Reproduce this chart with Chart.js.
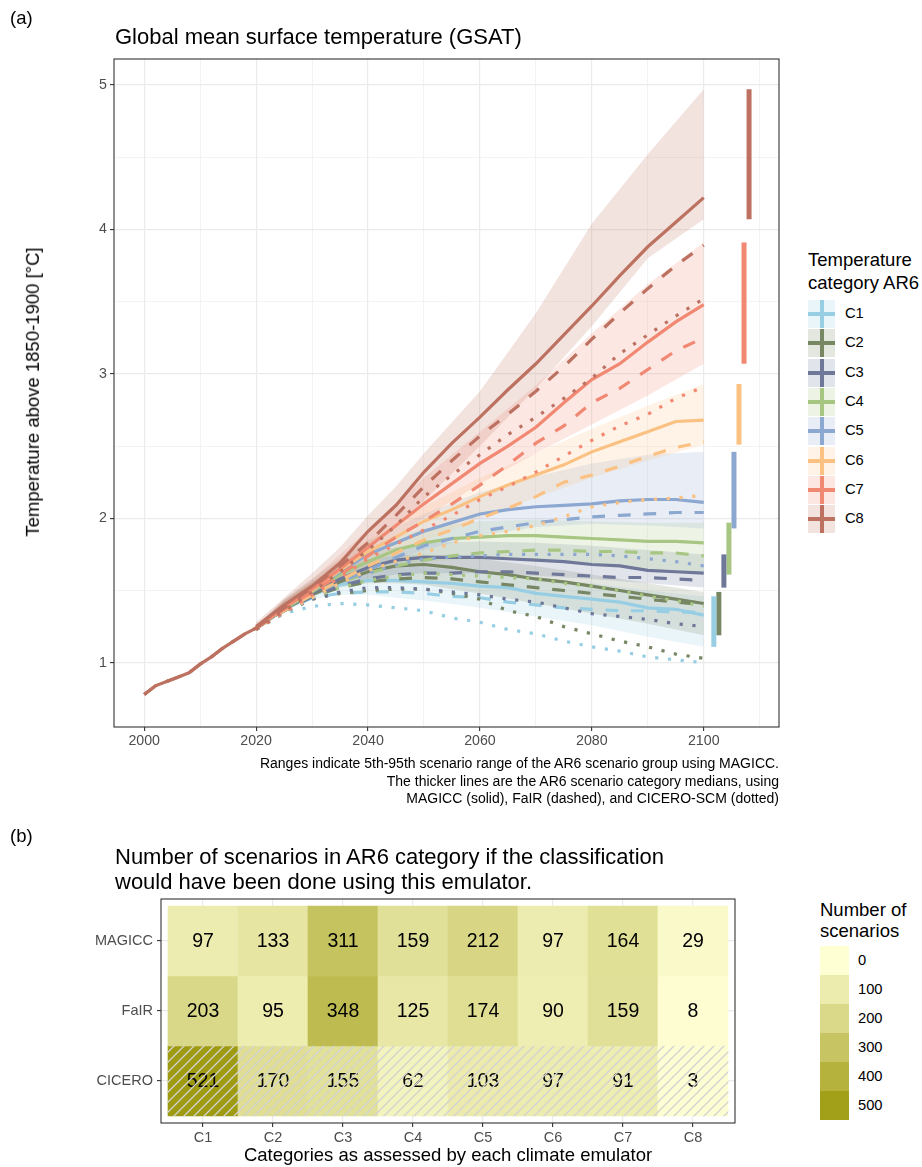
<!DOCTYPE html>
<html>
<head>
<meta charset="utf-8">
<title>GSAT and scenario counts</title>
<script src="https://cdn.jsdelivr.net/npm/chart.js"></script>
<style>
  body { margin:0; background:#fff; font-family:"Liberation Sans", Arial, Helvetica, sans-serif; }
  #page { position:relative; width:922px; height:1167px; overflow:hidden; }
  .txt { position:absolute; white-space:nowrap; color:#000; line-height:1.2; transform:translateY(-50%); }
  canvas { position:absolute; left:0; }
  .key { position:absolute; left:808px; width:27px; height:28px; }
  .key .h { position:absolute; left:0; right:0; top:12px; height:4px; }
  .key .v { position:absolute; top:0; bottom:0; left:11.5px; width:4px; }
  .swatch { position:absolute; left:820px; width:29px; height:29px; }
</style>
</head>
<body>
<div id="page">
  <canvas id="chartA" width="800" height="760" style="top:0"></canvas>
  <canvas id="chartB" width="760" height="340" style="top:820px"></canvas>

  <div class="txt" style="left:10px;top:18px;font-size:18.5px">(a)</div>
  <div class="txt" style="left:115px;top:37px;font-size:22px">Global mean surface temperature (GSAT)</div>
  <div class="txt" style="left:33px;top:392px;font-size:18.5px;transform:translate(-50%,-50%) rotate(-90deg)">Temperature above 1850-1900 [°C]</div>
  <div class="txt" style="right:143px;top:763px;font-size:14px">Ranges indicate 5th-95th scenario range of the AR6 scenario group using MAGICC.</div>
  <div class="txt" style="right:143px;top:781px;font-size:14px">The thicker lines are the AR6 scenario category medians, using</div>
  <div class="txt" style="right:143px;top:798px;font-size:14px">MAGICC (solid), FaIR (dashed), and CICERO-SCM (dotted)</div>
  <div class="txt" style="left:808px;top:260px;font-size:18.5px">Temperature</div>
  <div class="txt" style="left:808px;top:283px;font-size:18.5px">category AR6</div>
  <div id="legendA"></div>

  <div class="txt" style="left:10px;top:836px;font-size:18.5px">(b)</div>
  <div class="txt" style="left:115px;top:857px;font-size:22px">Number of scenarios in AR6 category if the classification</div>
  <div class="txt" style="left:115px;top:882px;font-size:22px">would have been done using this emulator.</div>
  <div class="txt" style="left:448px;top:1155px;font-size:18.5px;transform:translate(-50%,-50%)">Categories as assessed by each climate emulator</div>
  <div class="txt" style="left:820px;top:910px;font-size:18.5px">Number of</div>
  <div class="txt" style="left:820px;top:931px;font-size:18.5px">scenarios</div>
  <div id="legendB"></div>
</div>

<script>
// ---------- data (a): GSAT medians and ranges ----------
const categories = ['C1','C2','C3','C4','C5','C6','C7','C8'];
const catColors = ['#97CEE4','#778663','#6F7899','#A7C682','#8CA7D0','#FAC182','#F18872','#BD7161'];

const histYears = [2000,2002,2004,2006,2008,2010,2012,2014,2016,2018,2020];
const histTemp  = [0.78,0.84,0.87,0.90,0.93,0.99,1.04,1.10,1.15,1.20,1.24];

const years = [2020,2025,2030,2035,2040,2045,2050,2055,2060,2065,2070,2075,2080,2085,2090,2095,2100];

const C1_MAGICC = [1.24,1.37,1.47,1.54,1.57,1.57,1.56,1.55,1.53,1.52,1.48,1.46,1.44,1.42,1.38,1.37,1.33];
const C1_FAIR   = [1.24,1.36,1.45,1.48,1.49,1.49,1.48,1.46,1.45,1.42,1.40,1.38,1.37,1.36,1.36,1.35,1.35];
const C1_CICERO = [1.23,1.34,1.39,1.41,1.40,1.38,1.36,1.31,1.28,1.23,1.20,1.15,1.11,1.08,1.04,1.02,1.00];
const C2_MAGICC = [1.24,1.37,1.47,1.56,1.63,1.67,1.68,1.66,1.63,1.61,1.58,1.56,1.53,1.50,1.47,1.44,1.41];
const C2_FAIR   = [1.24,1.36,1.46,1.52,1.56,1.58,1.59,1.58,1.56,1.54,1.52,1.50,1.48,1.46,1.44,1.42,1.40];
const C2_CICERO = [1.23,1.35,1.44,1.48,1.50,1.51,1.51,1.48,1.44,1.36,1.32,1.25,1.20,1.15,1.11,1.06,1.03];
const C3_MAGICC = [1.24,1.37,1.48,1.58,1.66,1.71,1.73,1.73,1.73,1.72,1.71,1.70,1.68,1.67,1.64,1.63,1.62];
const C3_FAIR   = [1.24,1.36,1.46,1.53,1.58,1.61,1.62,1.62,1.63,1.63,1.62,1.61,1.60,1.59,1.59,1.58,1.57];
const C3_CICERO = [1.23,1.35,1.44,1.49,1.52,1.52,1.51,1.49,1.47,1.44,1.42,1.38,1.34,1.32,1.30,1.27,1.25];
const C4_MAGICC = [1.24,1.37,1.49,1.61,1.70,1.78,1.83,1.86,1.87,1.88,1.88,1.87,1.86,1.85,1.84,1.84,1.83];
const C4_FAIR   = [1.24,1.36,1.47,1.56,1.62,1.67,1.71,1.74,1.76,1.77,1.78,1.78,1.77,1.77,1.76,1.76,1.74];
const C4_CICERO = [1.23,1.35,1.45,1.52,1.57,1.60,1.62,1.61,1.60,1.59,1.58,1.55,1.53,1.50,1.46,1.43,1.39];
const C5_MAGICC = [1.24,1.38,1.50,1.63,1.75,1.83,1.91,1.97,2.03,2.06,2.08,2.09,2.10,2.12,2.13,2.13,2.11];
const C5_FAIR   = [1.24,1.36,1.47,1.56,1.64,1.73,1.81,1.86,1.91,1.94,1.97,1.99,2.01,2.02,2.03,2.04,2.04];
const C5_CICERO = [1.23,1.35,1.45,1.55,1.62,1.68,1.72,1.73,1.74,1.75,1.75,1.75,1.75,1.74,1.72,1.70,1.67];
const C6_MAGICC = [1.24,1.38,1.50,1.64,1.77,1.87,1.98,2.06,2.15,2.23,2.30,2.37,2.46,2.53,2.60,2.67,2.68];
const C6_FAIR   = [1.24,1.36,1.47,1.57,1.67,1.76,1.85,1.92,2.00,2.07,2.15,2.25,2.30,2.36,2.43,2.49,2.53];
const C6_CICERO = [1.23,1.35,1.45,1.55,1.64,1.70,1.76,1.83,1.88,1.91,1.95,2.01,2.08,2.11,2.13,2.14,2.16];
const C7_MAGICC = [1.24,1.38,1.51,1.65,1.80,1.95,2.10,2.24,2.38,2.50,2.63,2.80,2.96,3.07,3.22,3.36,3.48];
const C7_FAIR   = [1.24,1.37,1.49,1.61,1.74,1.87,1.98,2.10,2.23,2.37,2.52,2.64,2.80,2.90,3.03,3.16,3.25];
const C7_CICERO = [1.23,1.35,1.47,1.59,1.72,1.82,1.92,2.02,2.13,2.22,2.32,2.43,2.54,2.64,2.72,2.83,2.91];
const C8_MAGICC = [1.25,1.40,1.53,1.69,1.91,2.09,2.32,2.52,2.70,2.89,3.07,3.27,3.47,3.68,3.88,4.05,4.22];
const C8_FAIR   = [1.24,1.38,1.52,1.67,1.83,2.02,2.22,2.40,2.57,2.72,2.88,3.05,3.24,3.42,3.59,3.75,3.89];
const C8_CICERO = [1.23,1.36,1.49,1.63,1.78,1.95,2.15,2.30,2.44,2.58,2.70,2.83,2.97,3.14,3.27,3.40,3.52];

// 5th-95th MAGICC range per category
const bandYears = [2020,2025,2030,2035,2040,2045,2050,2060,2070,2080,2090,2100];
const C1_LO = [1.23,1.35,1.44,1.47,1.47,1.45,1.43,1.38,1.32,1.26,1.18,1.11];
const C1_HI = [1.25,1.41,1.54,1.62,1.66,1.67,1.66,1.63,1.59,1.55,1.50,1.46];
const C2_LO = [1.23,1.36,1.46,1.52,1.55,1.55,1.54,1.48,1.41,1.34,1.27,1.19];
const C2_HI = [1.25,1.42,1.55,1.65,1.72,1.74,1.75,1.72,1.67,1.61,1.55,1.49];
const C3_LO = [1.23,1.36,1.47,1.54,1.58,1.61,1.62,1.62,1.60,1.58,1.55,1.52];
const C3_HI = [1.25,1.43,1.56,1.67,1.76,1.80,1.83,1.84,1.83,1.81,1.78,1.75];
const C4_LO = [1.23,1.37,1.48,1.56,1.62,1.67,1.70,1.72,1.71,1.68,1.65,1.61];
const C4_HI = [1.25,1.43,1.56,1.69,1.80,1.87,1.93,1.98,1.99,1.98,1.97,1.97];
const C5_LO = [1.23,1.37,1.48,1.56,1.64,1.71,1.78,1.88,1.94,1.96,1.95,1.93];
const C5_HI = [1.25,1.44,1.58,1.72,1.84,1.94,2.03,2.18,2.29,2.38,2.44,2.46];
const C6_LO = [1.23,1.37,1.48,1.58,1.68,1.76,1.84,2.00,2.14,2.28,2.40,2.51];
const C6_HI = [1.25,1.43,1.57,1.72,1.85,1.96,2.08,2.28,2.45,2.62,2.78,2.93];
const C7_LO = [1.23,1.38,1.50,1.63,1.76,1.88,2.00,2.24,2.45,2.65,2.85,3.07];
const C7_HI = [1.26,1.44,1.58,1.75,1.92,2.10,2.28,2.60,2.92,3.28,3.62,3.91];
const C8_LO = [1.22,1.36,1.48,1.62,1.78,1.95,2.12,2.50,2.90,3.33,3.80,4.07];
const C8_HI = [1.28,1.45,1.62,1.80,2.02,2.22,2.45,2.88,3.42,4.04,4.52,4.97];

// x position (year) of the 2100 range bars on the right
const rangeX = [2101.8,2102.7,2103.6,2104.5,2105.4,2106.3,2107.2,2108.1];

const xTickYears = [2000,2010,2020,2030,2040,2050,2060,2070,2080,2090,2100,2110];
const yTickValues = [1,1.5,2,2.5,3,3.5,4,4.5,5];

// ---------- data (b): scenario counts ----------
const emulators = ['MAGICC','FaIR','CICERO'];
const MAGICC_N = [97,133,311,159,212,97,164,29];
const FAIR_N   = [203,95,348,125,174,90,159,8];
const CICERO_N = [521,170,155,62,103,97,91,3];
const countSteps = [0,100,200,300,400,500];

// ---------- helpers ----------
const magicc = [C1_MAGICC,C2_MAGICC,C3_MAGICC,C4_MAGICC,C5_MAGICC,C6_MAGICC,C7_MAGICC,C8_MAGICC];
const fair   = [C1_FAIR,C2_FAIR,C3_FAIR,C4_FAIR,C5_FAIR,C6_FAIR,C7_FAIR,C8_FAIR];
const cicero = [C1_CICERO,C2_CICERO,C3_CICERO,C4_CICERO,C5_CICERO,C6_CICERO,C7_CICERO,C8_CICERO];
const bandLo = [C1_LO,C2_LO,C3_LO,C4_LO,C5_LO,C6_LO,C7_LO,C8_LO];
const bandHi = [C1_HI,C2_HI,C3_HI,C4_HI,C5_HI,C6_HI,C7_HI,C8_HI];
const dashes = [[], [12.8,12.8], [3.2,9.6]];

function rgba(hex, a){
  const n = parseInt(hex.slice(1),16);
  return 'rgba(' + (n>>16) + ',' + ((n>>8)&255) + ',' + (n&255) + ',' + a + ')';
}
function toPoints(xs, ys){ return xs.map((x,k)=>({x:x, y:ys[k]})); }

Chart.defaults.font.family = '"Liberation Sans", Arial, sans-serif';
Chart.defaults.color = '#4d4d4d';

const panelBorder = {
  id:'panelBorder',
  afterDraw(chart){
    const a = chart.chartArea, ctx = chart.ctx;
    ctx.save();
    ctx.strokeStyle = '#333333';
    ctx.lineWidth = 1.1;
    ctx.strokeRect(a.left, a.top, a.right - a.left, a.bottom - a.top);
    ctx.restore();
  }
};

// ---------- chart (a) ----------
const dsA = [];
categories.forEach((c,i)=>{
  dsA.push({data:toPoints(bandYears, bandHi[i]), borderWidth:0, borderColor:'rgba(0,0,0,0)',
            backgroundColor:rgba(catColors[i],0.2), pointRadius:0, fill:'+1', order:60-i});
  dsA.push({data:toPoints(bandYears, bandLo[i]), borderWidth:0, borderColor:'rgba(0,0,0,0)',
            pointRadius:0, fill:false, order:60-i});
});
[magicc, fair, cicero].forEach((model,j)=>{
  categories.forEach((c,i)=>{
    dsA.push({data:toPoints(years, model[i]), borderColor:catColors[i], borderWidth:3.2,
              borderDash:dashes[j], borderCapStyle:'butt', pointRadius:0, fill:false, order:30-i});
  });
});
// historical part, shared by all series (C8 is drawn on top)
dashes.forEach(d=>{
  dsA.push({data:toPoints(histYears, histTemp), borderColor:catColors[7], borderWidth:3.2,
            borderDash:d, borderCapStyle:'butt', pointRadius:0, fill:false, order:5});
});
// 2100 ranges as vertical bars
categories.forEach((c,i)=>{
  const lo = bandLo[i][bandLo[i].length-1], hi = bandHi[i][bandHi[i].length-1];
  dsA.push({data:[{x:rangeX[i], y:lo},{x:rangeX[i], y:hi}], borderColor:catColors[i], borderWidth:5,
            borderCapStyle:'butt', pointRadius:0, fill:false, order:1});
});

const isMajorX = v => v % 20 === 0;
const isMajorY = v => Number.isInteger(v);

new Chart(document.getElementById('chartA'), {
  type:'line',
  data:{datasets:dsA},
  options:{
    responsive:false, animation:false,
    layout:{padding:{top:59, right:21, left:0, bottom:0}},
    plugins:{legend:{display:false}, tooltip:{enabled:false}},
    scales:{
      x:{
        type:'linear', min:1994.6, max:2113.45,
        afterBuildTicks: s => { s.ticks = xTickYears.map(v=>({value:v})); },
        afterFit: s => { s.height = 33; },
        border:{display:false},
        grid:{color:'#ebebeb', lineWidth: c => (c.tick && isMajorX(c.tick.value)) ? 1.2 : 0.6,
              tickLength:4, tickWidth:1.1,
              tickColor: c => (c.tick && isMajorX(c.tick.value)) ? '#333333' : 'rgba(0,0,0,0)'},
        ticks:{autoSkip:false, maxRotation:0, padding:2, font:{size:14.2}, color:'#4d4d4d',
               callback: v => isMajorX(v) ? String(v) : ''}
      },
      y:{
        type:'linear', min:0.555, max:5.18,
        afterBuildTicks: s => { s.ticks = yTickValues.map(v=>({value:v})); },
        afterFit: s => { s.width = 114; },
        border:{display:false},
        grid:{color:'#ebebeb', lineWidth: c => (c.tick && isMajorY(c.tick.value)) ? 1.2 : 0.6,
              tickLength:4, tickWidth:1.1,
              tickColor: c => (c.tick && isMajorY(c.tick.value)) ? '#333333' : 'rgba(0,0,0,0)'},
        ticks:{autoSkip:false, padding:3, font:{size:14.2}, color:'#4d4d4d',
               callback: v => isMajorY(v) ? String(v) : ''}
      }
    }
  },
  plugins:[panelBorder]
});

// legend (a)
const legA = document.getElementById('legendA');
categories.forEach((c,i)=>{
  const top = 300 + i*29.3;
  legA.insertAdjacentHTML('beforeend',
    '<div class="key" style="top:'+top+'px;background:'+rgba(catColors[i],0.2)+'">' +
    '<div class="h" style="background:'+catColors[i]+'"></div>' +
    '<div class="v" style="background:'+catColors[i]+'"></div></div>' +
    '<div class="txt" style="left:845px;top:'+(top+14)+'px;font-size:14.7px">'+c+'</div>');
});

// ---------- chart (b) ----------
function fillFor(n){
  const t = n/500;
  const r = Math.round(255 + (162-255)*t), g = Math.round(255 + (159-255)*t), b = Math.round(212 + (24-212)*t);
  return 'rgb('+r+','+g+','+b+')';
}
function hatchPattern(){
  const c = document.createElement('canvas');
  c.width = 10; c.height = 10;
  const x = c.getContext('2d');
  x.strokeStyle = '#d2d2d2'; x.lineWidth = 1.3;
  x.beginPath();
  x.moveTo(-1,11); x.lineTo(11,-1);
  x.moveTo(-1,1); x.lineTo(1,-1);
  x.moveTo(9,11); x.lineTo(11,9);
  x.stroke();
  return document.getElementById('chartB').getContext('2d').createPattern(c,'repeat');
}

const rowCounts = [MAGICC_N, FAIR_N, CICERO_N];
const rowPos = [3,2,1];
const dsB = emulators.map((e,r)=>({
  label:e, counts:rowCounts[r], heat:true,
  data: rowCounts[r].map((n,k)=>({x:k+1, y:[rowPos[r]-0.5, rowPos[r]+0.5]})),
  backgroundColor: rowCounts[r].map(fillFor),
  borderWidth:0, grouped:false, barPercentage:1, categoryPercentage:1, order:2
}));
// hatching over the CICERO row
dsB.push({
  label:'hatch',
  data: CICERO_N.map((n,k)=>({x:k+1, y:[0.5,1.5]})),
  backgroundColor: hatchPattern(),
  borderWidth:0, grouped:false, barPercentage:1, categoryPercentage:1, order:1
});

const cellLabels = {
  id:'cellLabels',
  afterDatasetDraw(chart, args){
    const ds = chart.data.datasets[args.index];
    if (!ds.heat) return;
    const ctx = chart.ctx;
    ctx.save();
    ctx.fillStyle = '#000';
    ctx.font = '19.5px "Liberation Sans", Arial, sans-serif';
    ctx.textAlign = 'center';
    ctx.textBaseline = 'middle';
    args.meta.data.forEach((el,k)=>{
      const p = el.getCenterPoint();
      ctx.fillText(String(ds.counts[k]), p.x, p.y + 1);
    });
    ctx.restore();
  }
};

new Chart(document.getElementById('chartB'), {
  type:'bar',
  data:{datasets:dsB},
  options:{
    responsive:false, animation:false,
    layout:{padding:{top:79, right:25, left:0, bottom:0}},
    plugins:{legend:{display:false}, tooltip:{enabled:false}},
    scales:{
      x:{
        type:'linear', min:0.4, max:8.6, offset:false,
        afterBuildTicks: s => { s.ticks = categories.map((c,k)=>({value:k+1})); },
        afterFit: s => { s.height = 37; },
        border:{display:false},
        grid:{color:'#ebebeb', lineWidth:1.2, offset:false, tickLength:4, tickWidth:1.1, tickColor:'#333333'},
        ticks:{autoSkip:false, maxRotation:0, padding:2, font:{size:14.5}, color:'#4d4d4d',
               callback: v => categories[v-1]}
      },
      y:{
        type:'linear', min:0.4, max:3.6,
        afterBuildTicks: s => { s.ticks = rowPos.map(v=>({value:v})); },
        afterFit: s => { s.width = 161; },
        border:{display:false},
        grid:{color:'#ebebeb', lineWidth:1.2, tickLength:4, tickWidth:1.1, tickColor:'#333333'},
        ticks:{autoSkip:false, padding:4, font:{size:14.5}, color:'#4d4d4d',
               callback: v => emulators[rowPos.indexOf(v)]}
      }
    }
  },
  plugins:[cellLabels, panelBorder]
});

// legend (b)
const legB = document.getElementById('legendB');
countSteps.forEach((n,k)=>{
  const top = 946 + k*29;
  legB.insertAdjacentHTML('beforeend',
    '<div class="swatch" style="top:'+top+'px;background:'+fillFor(n)+'"></div>' +
    '<div class="txt" style="left:858px;top:'+(top+15)+'px;font-size:14.7px">'+n+'</div>');
});
</script>
</body>
</html>
